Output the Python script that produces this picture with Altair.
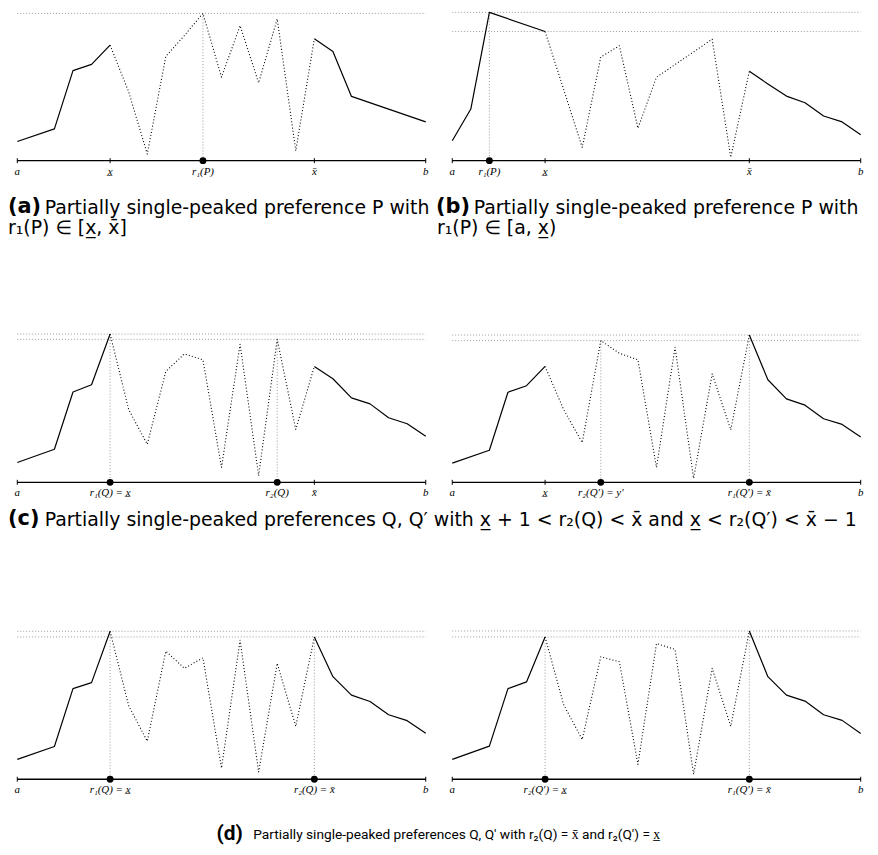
import altair as alt
import pandas as pd

# ---------------- data (heights above the axis) -------------
X_A = [0, 2, 3, 4, 5, 6, 7, 8, 9, 10, 11, 12, 13, 14, 15, 16, 17, 18, 22]
H_A = [19.3, 32, 90.7, 97, 116.3, 69.3, 6.7, 105, 126, 148.3, 84, 136, 78.3, 142.7, 10, 122.7, 110, 64.7, 39]

X_B = [0, 1, 2, 5, 6, 7, 8, 9, 10, 11, 14, 15, 16, 17, 18, 19, 20, 21, 22]
H_B = [20, 52, 149.3, 130, 71.7, 13.3, 104.3, 115.7, 32.7, 84, 122.3, 3.3, 90, 77.3, 65, 58.3, 45, 39, 26]

X_FULL = [0, 2, 3, 4, 5, 6, 7, 8, 9, 10, 11, 12, 13, 14, 15, 16, 17, 18, 19, 20, 21, 22]
H_C1 = [20, 33.3, 91, 98.3, 149.3, 73.3, 38.3, 111.7, 129.3, 123.3, 15, 139, 6.7, 144, 53.3, 116.7, 104.3, 85, 79, 65, 59, 46.3]
H_C2 = [19.3, 32.3, 90.7, 97.3, 116.7, 73.3, 40, 142.7, 130, 123.3, 15, 136, 4, 109.3, 52.7, 148.3, 103.3, 84, 77.7, 64, 58.3, 45.7]
H_D1 = [20, 33, 91.3, 97.3, 149, 74, 38.3, 129, 111.7, 122.3, 11.3, 140, 7.3, 116.7, 53.3, 143.3, 103.3, 84.7, 78.3, 65, 59, 46.3]
H_D2 = [20, 33.3, 91.3, 98, 143.3, 75, 40, 123.3, 118.3, 15, 136.7, 130.7, 5, 111.7, 53.3, 149.3, 103.3, 84.7, 78.7, 65, 59.3, 46]

X_LOW, X_HIGH = 5, 16          # x underbar and x bar

# peaks marked with a dot / drop line, and levels of the horizontal dotted lines
DOTS = {"a": [10], "b": [2], "c1": [5, 14], "c2": [8, 16], "d1": [5, 16], "d2": [5, 16]}
HLINES = {"a": [10], "b": [2, 5], "c1": [5, 14], "c2": [16, 8], "d1": [5, 16], "d2": [16, 5]}

XL = "x\u0332"
XB = "x\u0304"
LABEL_X = {
    "a": [0, 5, 10, 16, 22],
    "b": [0, 2, 5, 16, 22],
    "c1": [0, 5, 14, 16, 22],
    "c2": [0, 5, 8, 16, 22],
    "d1": [0, 5, 16, 22],
    "d2": [0, 5, 16, 22],
}
LABEL_T = {
    "a": ["a", XL, "r\u2081(P)", XB, "b"],
    "b": ["a", "r\u2081(P)", XL, XB, "b"],
    "c1": ["a", "r\u2081(Q) = " + XL, "r\u2082(Q)", XB, "b"],
    "c2": ["a", XL, "r\u2082(Q\u2032) = y\u2032", "r\u2081(Q\u2032) = " + XB, "b"],
    "d1": ["a", "r\u2081(Q) = " + XL, "r\u2082(Q) = " + XB, "b"],
    "d2": ["a", "r\u2082(Q\u2032) = " + XL, "r\u2081(Q\u2032) = " + XB, "b"],
}

CAP_TAGS = ["(a)", "(b)", "(c)", "(d)"]
CAP_A = ["Partially single-peaked preference P with", "r\u2081(P) \u2208 [" + XL + ", " + XB + "]"]
CAP_B = ["Partially single-peaked preference P with", "r\u2081(P) \u2208 [a, " + XL + ")"]
CAP_C = ("Partially single-peaked preferences Q, Q\u2032 with " + XL + " + 1 < r\u2082(Q) < " + XB
         + " and " + XL + " < r\u2082(Q\u2032) < " + XB + " \u2212 1")
CAP_D = ("Partially single-peaked preferences Q, Q\u2032 with r\u2082(Q) = " + XB
         + " and r\u2082(Q\u2032) = " + XL)

# ---------------- styling -------------
PW = 430
SANS = "DejaVu Sans"
NARROW = "Roboto"
SERIF = "Liberation Serif"
TAG_SIZE = 21
CAP_SIZE = 19
GRAY = "#9a9a9a"


def text_layer(txt, x, y, size, bold=False, font=SANS):
    return alt.Chart(pd.DataFrame({"t": [txt]})).mark_text(
        align="left", baseline="middle", font=font, fontSize=size,
        fontWeight="bold" if bold else "normal", color="black"
    ).encode(x=alt.value(x), y=alt.value(y), text="t:N")


def panel(key, xs, hs, U, L, extra=()):
    H = U + L
    xsc = alt.Scale(domain=[-0.5, 22.5], nice=False, zero=False)
    ysc = alt.Scale(domain=[-L, U], nice=False, zero=False)
    val = dict(zip(xs, hs))

    def X(f="x"):
        return alt.X(f + ":Q", scale=xsc, axis=None)

    def Y(f="h"):
        return alt.Y(f + ":Q", scale=ysc, axis=None)

    df = pd.DataFrame({"x": xs, "h": hs})
    solid_df = pd.concat([df[df.x <= X_LOW].assign(seg="L"), df[df.x >= X_HIGH].assign(seg="R")])
    dotted_df = df[(df.x >= X_LOW) & (df.x <= X_HIGH)]

    hl_df = pd.DataFrame({"x": [xs[0]] * len(HLINES[key]), "x2": [xs[-1]] * len(HLINES[key]),
                          "h": [val[k] for k in HLINES[key]]})
    dot_df = pd.DataFrame({"x": DOTS[key], "h": [val[k] for k in DOTS[key]], "z": [0] * len(DOTS[key])})
    ax_df = pd.DataFrame({"x": [xs[0]], "x2": [xs[-1]], "h": [0]})
    lab_df = pd.DataFrame({"x": LABEL_X[key], "t": LABEL_T[key]})
    lab_df["h"] = 0
    lab_df["lo"] = -2.5
    lab_df["hi"] = 2.5

    hlines = alt.Chart(hl_df).mark_rule(color=GRAY, strokeDash=[1, 2], strokeWidth=1).encode(
        x=X(), x2="x2:Q", y=Y())
    drops = alt.Chart(dot_df).mark_rule(color=GRAY, strokeDash=[1, 2], strokeWidth=1).encode(
        x=X(), y=Y(), y2="z:Q")
    solid = alt.Chart(solid_df).mark_line(color="black", strokeWidth=1.2, strokeJoin="round").encode(
        x=X(), y=Y(), detail="seg:N", order="x:Q")
    dotted = alt.Chart(dotted_df).mark_line(color="black", strokeWidth=1.1, strokeDash=[1, 2.2],
                                            strokeJoin="round").encode(
        x=X(), y=Y(), order="x:Q")
    axisline = alt.Chart(ax_df).mark_rule(color="black", strokeWidth=1.3).encode(
        x=X(), x2="x2:Q", y=Y())
    ticks = alt.Chart(lab_df).mark_rule(color="black", strokeWidth=1).encode(
        x=X(), y=Y("lo"), y2="hi:Q")
    dots = alt.Chart(dot_df).mark_circle(size=48, color="black", opacity=1).encode(
        x=X(), y=Y("z"))
    texts = alt.Chart(lab_df).mark_text(font=SERIF, fontStyle="italic", fontSize=11, dy=11,
                                        baseline="middle", color="black").encode(
        x=X(), y=Y(), text="t:N")
    return alt.layer(hlines, drops, solid, dotted, axisline, ticks, dots, texts, *extra).properties(
        width=PW, height=H)


# row 1 (captions inside)
U1, L1 = 149.8, 82.2
cap_a = [text_layer(CAP_TAGS[0], 0, 197, TAG_SIZE, bold=True),
         text_layer(CAP_A[0], 37, 198, CAP_SIZE),
         text_layer(CAP_A[1], 0, 218, CAP_SIZE)]
cap_b = [text_layer(CAP_TAGS[1], -7, 197, TAG_SIZE, bold=True),
         text_layer(CAP_B[0], 31, 198, CAP_SIZE),
         text_layer(CAP_B[1], -6, 218, CAP_SIZE)]
row1 = alt.hconcat(panel("a", X_A, H_A, U1, L1, cap_a),
                   panel("b", X_B, H_B, U1, L1, cap_b), spacing=8, bounds="flush")

row2 = alt.hconcat(panel("c1", X_FULL, H_C1, 241.7, 23.3),
                   panel("c2", X_FULL, H_C2, 241.7, 23.3), spacing=8, bounds="flush")
capc = alt.layer(text_layer(CAP_TAGS[2], 0, 14, TAG_SIZE, bold=True),
                 text_layer(CAP_C, 37, 15, CAP_SIZE)).properties(width=2 * PW + 8, height=30)

row3 = alt.hconcat(panel("d1", X_FULL, H_D1, 245.7, 24.3),
                   panel("d2", X_FULL, H_D2, 245.7, 24.3), spacing=8, bounds="flush")
capd = alt.layer(text_layer(CAP_TAGS[3], 210, 31, 21, bold=True, font=NARROW),
                 text_layer(CAP_D, 247, 32, 13.8, font=NARROW)).properties(width=2 * PW + 8, height=40)

chart = alt.vconcat(row1, row2, capc, row3, capd, spacing=0).properties(
    padding=0).configure_view(stroke=None)

chart.save("out.html", embed_options={"renderer": "svg", "actions": False})
